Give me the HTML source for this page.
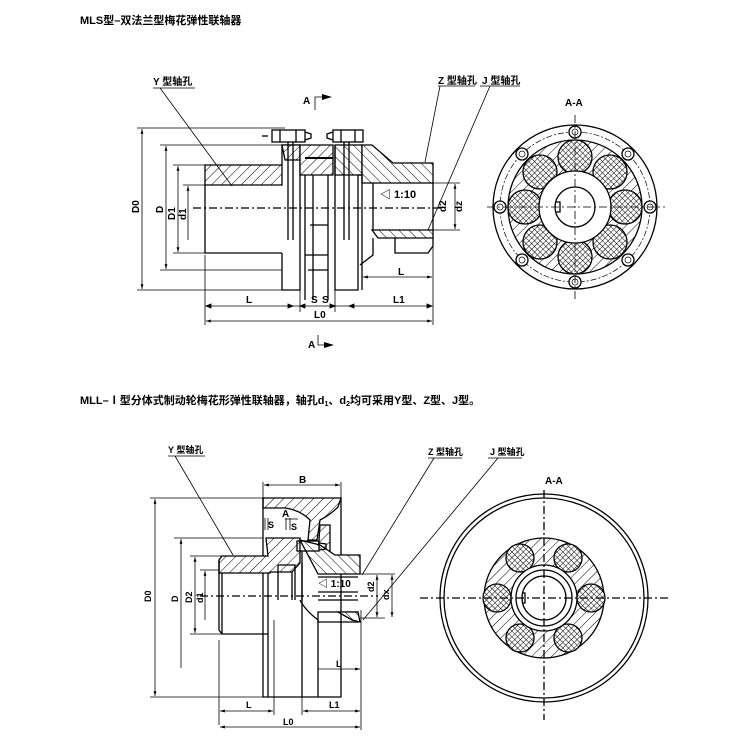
<!DOCTYPE html>
<html><head><meta charset="utf-8"><style>
html,body{margin:0;padding:0;background:#fff;}
svg{display:block;}
text{font-family:"Liberation Sans","Noto Sans CJK SC",sans-serif;fill:#000;}
</style></head><body>
<svg width="750" height="750" viewBox="0 0 750 750" xmlns="http://www.w3.org/2000/svg">
<defs>
<pattern id="h" width="7" height="7" patternUnits="userSpaceOnUse" patternTransform="rotate(45)"><rect width="7" height="7" fill="#fff"/><line x1="0" y1="0" x2="0" y2="7" stroke="#000" stroke-width="1"/></pattern>
<pattern id="h2" width="7" height="7" patternUnits="userSpaceOnUse" patternTransform="rotate(-45)"><rect width="7" height="7" fill="#fff"/><line x1="0" y1="0" x2="0" y2="7" stroke="#000" stroke-width="1"/></pattern>
<pattern id="x" width="4" height="4" patternUnits="userSpaceOnUse" patternTransform="rotate(45)"><rect width="4" height="4" fill="#fff"/><line x1="0" y1="0" x2="0" y2="4" stroke="#000" stroke-width="1"/><line x1="0" y1="0" x2="4" y2="0" stroke="#000" stroke-width="1"/></pattern>
<marker id="a" viewBox="0 0 10 10" refX="10" refY="5" markerWidth="6" markerHeight="6" orient="auto-start-reverse"><path d="M0,2 L10,5 L0,8z" fill="#000"/></marker>
</defs>
<text x="80" y="24" font-size="11" font-weight="bold">MLS型–双法兰型梅花弹性联轴器</text>
<text x="80" y="404" font-size="11" font-weight="bold">MLL–Ⅰ型分体式制动轮梅花形弹性联轴器，轴孔d<tspan font-size="7" dy="2">1</tspan><tspan dy="-2">、d</tspan><tspan font-size="7" dy="2">2</tspan><tspan dy="-2">均可采用Y型、Z型、J型。</tspan></text>

<g stroke="#000" fill="none" stroke-width="1.3">
<path d="M205,165 H282 V185 H205z" fill="url(#h)"/>
<path d="M205,185 V253 H282"/>
<path d="M282,165 L282,145 H300 V290 H282 V253"/>
<path d="M282,145 H300 V160 H285z" fill="url(#h)"/>
<path d="M300,145 H333 V175 H300z" fill="url(#h)"/>
<path d="M305,158 H333" stroke-width="2"/>
<path d="M305,175 V300 M313,175 V300 M328,175 V300"/>
<path d="M305,255 H328 M310,225 H328 M308,270 H328"/>
<path d="M335,145 H362 V175 H335z" fill="url(#h2)"/>
<path d="M335,145 V290 H358 V175"/>
<path d="M358,175 H375"/>
<path d="M362,145 H372 L393,163 H433 V183 H362z" fill="url(#h2)"/>
<path d="M372,230 H433 V238 H378z" fill="url(#h2)"/>
<path d="M373,183 V230 M433,183 V230"/>
<path d="M373,238 L373,255 L360,265 M395,238 V253 H428 L433,246 V238"/>
<path d="M362,175 V290"/>
<rect x="272" y="130" width="33" height="12"/><line x1="280" y1="130" x2="280" y2="142"/><line x1="296" y1="130" x2="296" y2="142"/>
<path d="M305,132 L311,134 V138 L305,140"/>
<rect x="333" y="130" width="30" height="12"/><line x1="341" y1="130" x2="341" y2="142"/><line x1="355" y1="130" x2="355" y2="142"/>
<path d="M333,132 L327,134 V138 L333,140"/>
<line x1="288" y1="142" x2="288" y2="240"/><line x1="293" y1="142" x2="293" y2="240"/>
<line x1="344" y1="142" x2="344" y2="240"/><line x1="349" y1="142" x2="349" y2="240"/>
<line x1="262" y1="136" x2="268" y2="136"/>
<line x1="193" y1="208" x2="445" y2="208" stroke-dasharray="8,3,2,3"/>
<path d="M137,128 H285 M160,145 H282 M173,165 H205 M183,185 H205 M173,253 H205 M160,270 H282 M137,290 H282 M433,183 H460 M433,230 H460 M433,165 V325 M205,255 V325 M300,290 V312 M335,290 V312" stroke-width="0.8"/>
</g>
<g stroke="#000" stroke-width="0.8" fill="none">
<line x1="142" y1="129" x2="142" y2="289" marker-start="url(#a)" marker-end="url(#a)"/>
<line x1="166" y1="146" x2="166" y2="269" marker-start="url(#a)" marker-end="url(#a)"/>
<line x1="178" y1="166" x2="178" y2="252" marker-start="url(#a)" marker-end="url(#a)"/>
<line x1="188" y1="186" x2="188" y2="240" marker-start="url(#a)"/>
<line x1="206" y1="306" x2="432" y2="306"/>
<path d="M206,306 l5,-2 v4z M293,306 l-5,-2 v4z M300,306 l5,-2 v4z M335,306 l-5,-2 v4z M349,306 l5,-2 v4z M432,306 l-5,-2 v4z" fill="#000"/>
<line x1="206" y1="321" x2="432" y2="321" marker-start="url(#a)" marker-end="url(#a)"/>
<line x1="363" y1="277" x2="432" y2="277" marker-start="url(#a)" marker-end="url(#a)"/>
<line x1="455" y1="184" x2="455" y2="229" marker-start="url(#a)" marker-end="url(#a)"/>
<path d="M153,88 H195 M160,88 L232,186"/>
<path d="M438,86 H475 M440,86 L425,162"/>
<path d="M480,86 H520 M490,86 L428,230"/>
<path d="M315,110 V97 H330 M318,345 V335 M318,345 H332"/>
</g>
<path d="M322,94 l10,3 l-10,3z M324,342 l10,3 l-10,3z" fill="#000"/>
<g font-size="10" font-weight="bold">
<text x="153" y="85">Y 型轴孔</text>
<text x="438" y="84">Z 型轴孔</text>
<text x="482" y="84">J 型轴孔</text>
<text x="303" y="104">A</text>
<text x="308" y="348">A</text>
<text x="380" y="198" font-size="11">◁ 1:10</text>
<text x="246" y="303">L</text><text x="311" y="303">S</text><text x="322" y="303">S</text><text x="393" y="303">L1</text>
<text x="314" y="318">L0</text>
<text x="398" y="275">L</text>
<text x="565" y="106">A-A</text>
<text x="545" y="484">A-A</text>
<text transform="translate(139,213) rotate(-90)">D0</text>
<text transform="translate(163,213) rotate(-90)">D</text>
<text transform="translate(175,220) rotate(-90)">D1</text>
<text transform="translate(186,220) rotate(-90)">d1</text>
<text transform="translate(446,212) rotate(-90)">d2</text>
<text transform="translate(462,212) rotate(-90)">dz</text>
</g>

<g stroke="#000" fill="none" stroke-width="1.3">
<circle cx="575" cy="207" r="82"/>
<circle cx="575" cy="207" r="75" stroke-dasharray="6,2,2,2" stroke-width="0.7"/>
<circle cx="575" cy="207" r="67" fill="url(#h)"/>
<g fill="url(#x)">
<circle cx="575" cy="157" r="17"/><circle cx="610" cy="172" r="17"/><circle cx="625" cy="207" r="17"/><circle cx="610" cy="242" r="17"/>
<circle cx="575" cy="257" r="17"/><circle cx="540" cy="242" r="17"/><circle cx="525" cy="207" r="17"/><circle cx="540" cy="172" r="17"/>
</g>
<circle cx="575" cy="207" r="36" fill="#fff"/>
<circle cx="575" cy="207" r="20" fill="#fff"/>
<path d="M556,202 h4 v10 h-4"/>
<g fill="#fff">
<circle cx="575" cy="132" r="6"/><circle cx="575" cy="282" r="6"/><circle cx="500" cy="207" r="6"/><circle cx="650" cy="207" r="6"/>
<circle cx="522" cy="154" r="6"/><circle cx="628" cy="154" r="6"/><circle cx="522" cy="260" r="6"/><circle cx="628" cy="260" r="6"/>
</g>
<g stroke-width="0.7"><circle cx="575" cy="132" r="3"/><circle cx="575" cy="282" r="3"/><circle cx="500" cy="207" r="3"/><circle cx="650" cy="207" r="3"/>
<circle cx="522" cy="154" r="3"/><circle cx="628" cy="154" r="3"/><circle cx="522" cy="260" r="3"/><circle cx="628" cy="260" r="3"/></g>
<path d="M487,207 H665 M575,115 V300" stroke-dasharray="8,3,2,3" stroke-width="0.8"/>
</g>

<g stroke="#000" fill="none" stroke-width="1.3">
<path d="M263,498 H341 L338,507 Q330,515 320,520 L317,540 H308 L310,520 Q300,510 285,508 H263z" fill="url(#h)"/>
<path d="M320,525 H330 V555 H318z" fill="url(#h)"/>
<path d="M263,498 V697 H341 V555 M341,498 V555"/>
<path d="M222,556 H268 L266,538 H300 V563 L292,572 H270 V573 H219 V560z" fill="url(#h)"/>
<path d="M219,560 V630 L222,634 H268 M222,573 V634"/>
<path d="M268,573 V697 M278,565 V600 M278,565 H295 V600 M292,572 V600"/>
<path d="M300,540 L320,545 L335,555 H360 L360,574 H318z" fill="url(#h2)"/>
<path d="M318,577 H358 M318,592 H358 M318,600 H358 M318,612 H358 V622 H318z"/>
<path d="M338,612 H358 L360,622 L352,620z" fill="url(#h2)"/>
<path d="M300,600 Q305,610 318,620"/>
<path d="M302,563 V697 M318,620 V697"/>
<rect x="297" y="541" width="22" height="10"/>
<path d="M319,543 L326,544 V549 L319,550"/>
<line x1="302" y1="551" x2="302" y2="600"/>
<line x1="200" y1="596" x2="378" y2="596" stroke-dasharray="8,3,2,3"/>
<path d="M150,498 H263 M174,538 H263 M190,556 H222 M200,570 H219 M190,634 H222 M150,697 H263 M360,574 H395 M360,618 H385 M219,640 V725 M361,610 V730 M274,620 V715 M302,690 V715 M263,482 V498 M341,482 V498" stroke-width="0.8"/>
</g>
<g stroke="#000" stroke-width="0.8" fill="none">
<line x1="155" y1="499" x2="155" y2="696" marker-start="url(#a)" marker-end="url(#a)"/>
<line x1="181" y1="539" x2="181" y2="668" marker-start="url(#a)"/>
<line x1="195" y1="557" x2="195" y2="633" marker-start="url(#a)" marker-end="url(#a)"/>
<line x1="205" y1="571" x2="205" y2="620" marker-start="url(#a)"/>
<line x1="264" y1="485" x2="340" y2="485" marker-start="url(#a)" marker-end="url(#a)"/>
<line x1="220" y1="711" x2="273" y2="711" marker-start="url(#a)" marker-end="url(#a)"/>
<line x1="303" y1="711" x2="360" y2="711" marker-start="url(#a)" marker-end="url(#a)"/>
<line x1="220" y1="727" x2="360" y2="727" marker-start="url(#a)" marker-end="url(#a)"/>
<line x1="318" y1="669" x2="360" y2="669" marker-end="url(#a)"/>
<line x1="377" y1="575" x2="377" y2="617" marker-start="url(#a)" marker-end="url(#a)"/>
<line x1="392" y1="575" x2="392" y2="617" marker-start="url(#a)" marker-end="url(#a)"/>
<path d="M265,518 V530 M268,518 V530 M286,518 V530 M290,518 V530"/>
<path d="M168,456 H205 M175,456 L233,555"/>
<path d="M428,458 H462 M434,458 L362,575"/>
<path d="M488,458 H522 M498,458 L363,620"/>
<path d="M285,519 H298"/>
</g>
<g font-size="9" font-weight="bold">
<text x="168" y="453">Y 型轴孔</text>
<text x="428" y="455">Z 型轴孔</text>
<text x="490" y="455">J 型轴孔</text>
<text x="299" y="483" font-size="10">B</text>
<text x="282" y="517" font-size="10">A</text>
<text x="268" y="528">S</text><text x="291" y="530">S</text>
<text x="318" y="587" font-size="10">◁ 1:10</text>
<text x="246" y="708">L</text><text x="329" y="708">L1</text><text x="283" y="725">L0</text>
<text x="336" y="667">L</text>
<text transform="translate(151,602) rotate(-90)">D0</text>
<text transform="translate(178,602) rotate(-90)">D</text>
<text transform="translate(192,603) rotate(-90)">D2</text>
<text transform="translate(203,603) rotate(-90)">d1</text>
<text transform="translate(374,592) rotate(-90)">d2</text>
<text transform="translate(389,600) rotate(-90)">dx</text>
</g>

<g stroke="#000" fill="none" stroke-width="1.3">
<circle cx="544" cy="598" r="104"/>
<circle cx="544" cy="598" r="100"/>
<circle cx="544" cy="598" r="60" fill="url(#h)"/>
<g fill="url(#x)">
<circle cx="520" cy="558" r="14"/><circle cx="568" cy="558" r="14"/><circle cx="591" cy="598" r="14"/>
<circle cx="568" cy="638" r="14"/><circle cx="520" cy="638" r="14"/><circle cx="497" cy="598" r="14"/>
</g>
<circle cx="544" cy="598" r="33" fill="#fff"/>
<circle cx="544" cy="598" r="28"/>
<circle cx="544" cy="598" r="22"/>
<path d="M522,593 h3 v10 h-3"/>
<path d="M420,598 H668 M544,490 V720" stroke-dasharray="8,3,2,3" stroke-width="1.3"/>
</g>
</svg>
</body></html>
